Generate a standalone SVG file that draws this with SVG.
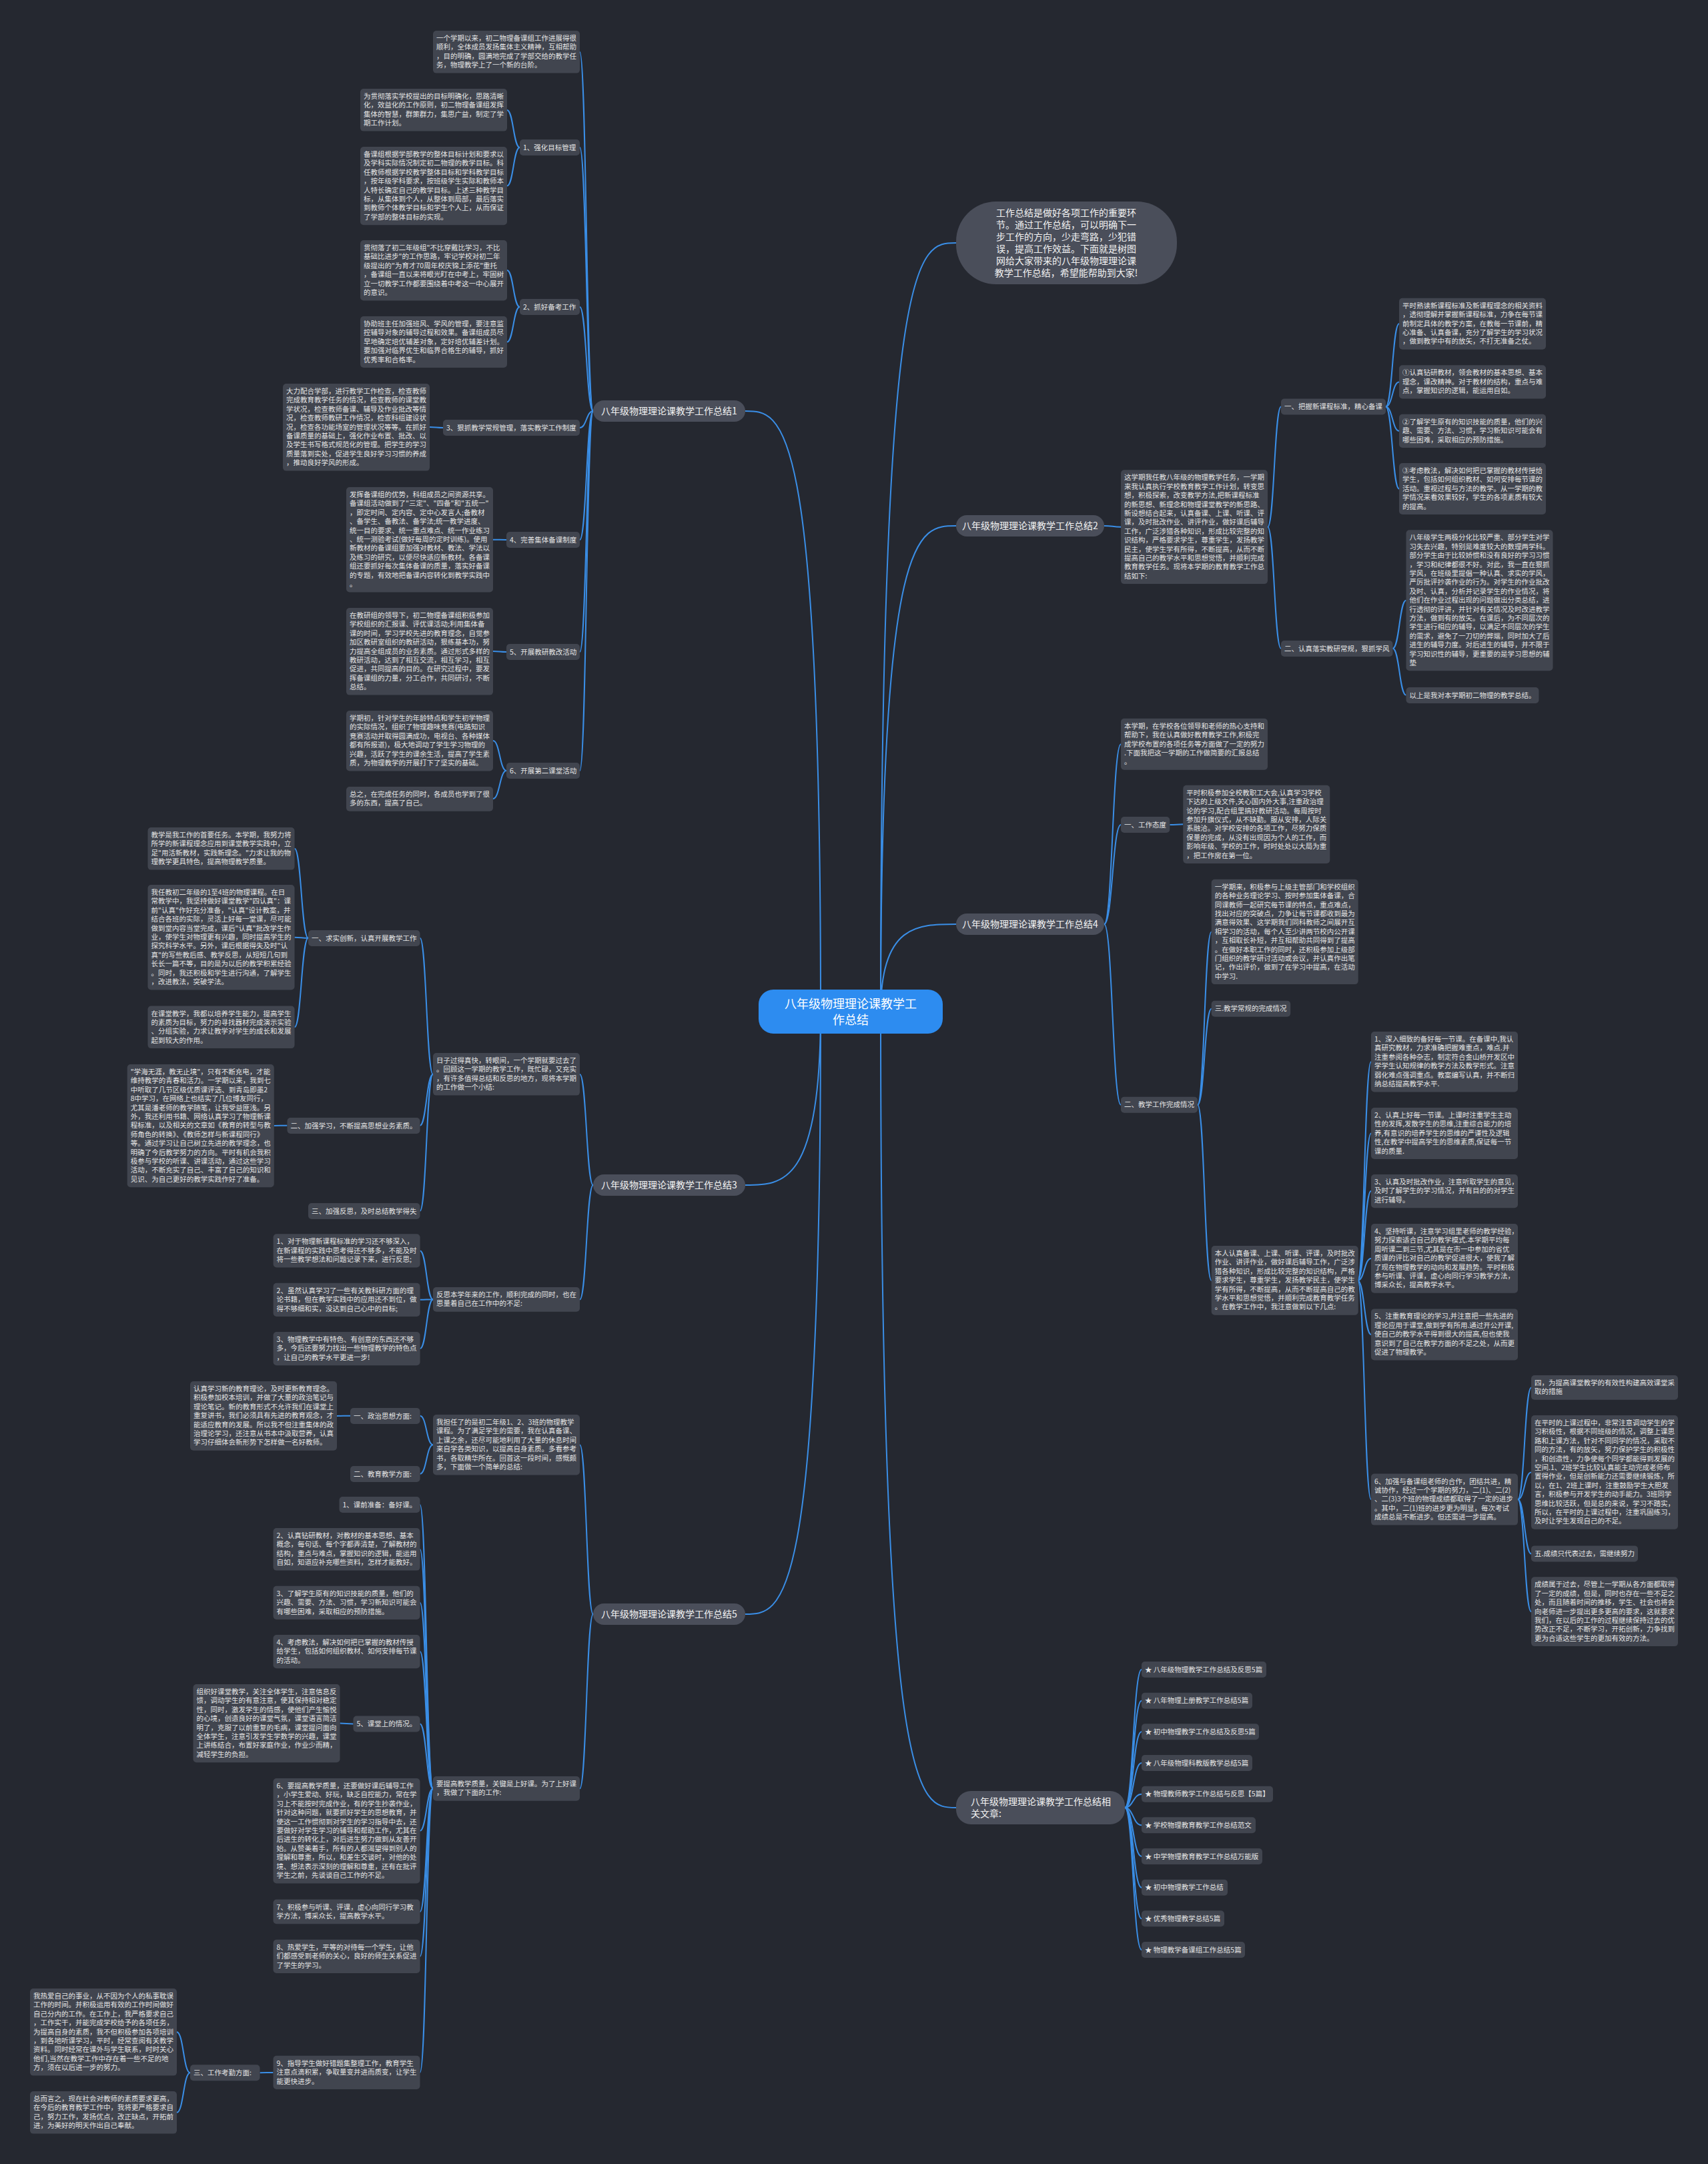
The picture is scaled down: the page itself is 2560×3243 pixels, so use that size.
<svg xmlns="http://www.w3.org/2000/svg" width="2560" height="3243" viewBox="0 0 2560 3243">
<style>
.b{fill:#41454f}
.t{font-family:"Noto Sans CJK SC","Noto Sans",sans-serif;font-size:10.5px;fill:#e4e4e4}
.c{fill:none;stroke:#3a8ee6;stroke-width:2}
.l1{fill:#4a4e5a}
.l1t{font-family:"Noto Sans CJK SC","Noto Sans",sans-serif;font-size:14px;fill:#f2f2f2;text-anchor:middle}
.rt{font-family:"Noto Sans CJK SC","Noto Sans",sans-serif;font-size:18px;fill:#ffffff;text-anchor:middle}
</style>
<rect x="0" y="0" width="2560" height="3243" fill="#252830"/>
<g id="connectors">
<path class="c" d="M1320 1516 C1320 364 1376 364 1433 364"/>
<path class="c" d="M1320 1516 C1320 788 1376 788 1433 788"/>
<path class="c" d="M1320 1516 C1320 1385 1376 1385 1433 1385"/>
<path class="c" d="M1320 1516 C1320 2709 1376 2709 1433 2709"/>
<path class="c" d="M1230 1516 C1230 616 1173 616 1117 616"/>
<path class="c" d="M1230 1516 C1230 1776 1173 1776 1117 1776"/>
<path class="c" d="M1230 1516 C1230 2419 1173 2419 1117 2419"/>
<path class="c" d="M869 78 C879 78 879 616 889 616"/>
<path class="c" d="M869 221 C879 221 879 616 889 616"/>
<path class="c" d="M869 460 C879 460 879 616 889 616"/>
<path class="c" d="M869 641 C879 641 879 616 889 616"/>
<path class="c" d="M869 809 C879 809 879 616 889 616"/>
<path class="c" d="M869 977 C879 977 879 616 889 616"/>
<path class="c" d="M869 1155 C879 1155 879 616 889 616"/>
<path class="c" d="M760 165 C769.5 165 769.5 221 779 221"/>
<path class="c" d="M760 278.5 C769.5 278.5 769.5 221 779 221"/>
<path class="c" d="M760 405 C769.5 405 769.5 460 779 460"/>
<path class="c" d="M760 512.5 C769.5 512.5 769.5 460 779 460"/>
<path class="c" d="M644 640 C654 640 654 641 664 641"/>
<path class="c" d="M739 808.7 C749 808.7 749 809 759 809"/>
<path class="c" d="M739 976 C749 976 749 977 759 977"/>
<path class="c" d="M739 1110 C749 1110 749 1155 759 1155"/>
<path class="c" d="M739 1197 C749 1197 749 1155 759 1155"/>
<path class="c" d="M869 1610 C879 1610 879 1776 889 1776"/>
<path class="c" d="M869 1947.4 C879 1947.4 879 1776 889 1776"/>
<path class="c" d="M629.5 1405.7 C639.2 1405.7 639.2 1610 649 1610"/>
<path class="c" d="M629.5 1686.7 C639.2 1686.7 639.2 1610 649 1610"/>
<path class="c" d="M629.5 1814.7 C639.2 1814.7 639.2 1610 649 1610"/>
<path class="c" d="M441.5 1271.8 C451.7 1271.8 451.7 1405.7 462 1405.7"/>
<path class="c" d="M441.5 1404.7 C451.7 1404.7 451.7 1405.7 462 1405.7"/>
<path class="c" d="M441.5 1539.3 C451.7 1539.3 451.7 1405.7 462 1405.7"/>
<path class="c" d="M410.7 1687 C420.6 1687 420.6 1686.7 430.5 1686.7"/>
<path class="c" d="M629.6 1874.4 C639.3 1874.4 639.3 1947.4 649 1947.4"/>
<path class="c" d="M629.6 1947.8 C639.3 1947.8 639.3 1947.4 649 1947.4"/>
<path class="c" d="M629.6 2021.1 C639.3 2021.1 639.3 1947.4 649 1947.4"/>
<path class="c" d="M869 2165.2 C879 2165.2 879 2419 889 2419"/>
<path class="c" d="M869 2680.4 C879 2680.4 879 2419 889 2419"/>
<path class="c" d="M629.6 2121.7 C639.3 2121.7 639.3 2165.2 649 2165.2"/>
<path class="c" d="M629.6 2208.7 C639.3 2208.7 639.3 2165.2 649 2165.2"/>
<path class="c" d="M505 2121.9 C515 2121.9 515 2121.7 525 2121.7"/>
<path class="c" d="M629.5 2255 C639.2 2255 639.2 2680.4 649 2680.4"/>
<path class="c" d="M629.5 2321.8 C639.2 2321.8 639.2 2680.4 649 2680.4"/>
<path class="c" d="M629.5 2401.8 C639.2 2401.8 639.2 2680.4 649 2680.4"/>
<path class="c" d="M629.5 2475.1 C639.2 2475.1 639.2 2680.4 649 2680.4"/>
<path class="c" d="M629.5 2583.4 C639.2 2583.4 639.2 2680.4 649 2680.4"/>
<path class="c" d="M629.5 2743.7 C639.2 2743.7 639.2 2680.4 649 2680.4"/>
<path class="c" d="M629.5 2864.9 C639.2 2864.9 639.2 2680.4 649 2680.4"/>
<path class="c" d="M629.5 2931.8 C639.2 2931.8 639.2 2680.4 649 2680.4"/>
<path class="c" d="M629.5 3105.9 C639.2 3105.9 639.2 2680.4 649 2680.4"/>
<path class="c" d="M509.5 2582.6 C519.5 2582.6 519.5 2583.4 529.5 2583.4"/>
<path class="c" d="M389.5 3106.2 C399.5 3106.2 399.5 3105.9 409.5 3105.9"/>
<path class="c" d="M265 3045.3 C275 3045.3 275 3106.2 285 3106.2"/>
<path class="c" d="M265 3165.8 C275 3165.8 275 3106.2 285 3106.2"/>
<path class="c" d="M1655 788 C1667.5 788 1667.5 789.7 1680 789.7"/>
<path class="c" d="M1900 789.7 C1910 789.7 1910 609.4 1920 609.4"/>
<path class="c" d="M1900 789.7 C1910 789.7 1910 971.7 1920 971.7"/>
<path class="c" d="M2077 609.4 C2087 609.4 2087 485.2 2097 485.2"/>
<path class="c" d="M2077 609.4 C2087 609.4 2087 572.4 2097 572.4"/>
<path class="c" d="M2077 609.4 C2087 609.4 2087 645.8 2097 645.8"/>
<path class="c" d="M2077 609.4 C2087 609.4 2087 732.5 2097 732.5"/>
<path class="c" d="M2087.5 971.7 C2097.5 971.7 2097.5 899.8 2107.5 899.8"/>
<path class="c" d="M2087.5 971.7 C2097.5 971.7 2097.5 1041.7 2107.5 1041.7"/>
<path class="c" d="M1655 1385 C1667.5 1385 1667.5 1115.2 1680 1115.2"/>
<path class="c" d="M1655 1385 C1667.5 1385 1667.5 1236 1680 1236"/>
<path class="c" d="M1655 1385 C1667.5 1385 1667.5 1655.7 1680 1655.7"/>
<path class="c" d="M1753.3 1236 C1763.3 1236 1763.3 1235.3 1773.3 1235.3"/>
<path class="c" d="M1795 1655.7 C1805.3 1655.7 1805.3 1396.4 1815.7 1396.4"/>
<path class="c" d="M1795 1655.7 C1805.3 1655.7 1805.3 1511.7 1815.7 1511.7"/>
<path class="c" d="M1795 1655.7 C1805.3 1655.7 1805.3 1918.9 1815.7 1918.9"/>
<path class="c" d="M2035 1918.9 C2045 1918.9 2045 1591.2 2055 1591.2"/>
<path class="c" d="M2035 1918.9 C2045 1918.9 2045 1698.5 2055 1698.5"/>
<path class="c" d="M2035 1918.9 C2045 1918.9 2045 1785.1 2055 1785.1"/>
<path class="c" d="M2035 1918.9 C2045 1918.9 2045 1885.9 2055 1885.9"/>
<path class="c" d="M2035 1918.9 C2045 1918.9 2045 1999.9 2055 1999.9"/>
<path class="c" d="M2035 1918.9 C2045 1918.9 2045 2247.1 2055 2247.1"/>
<path class="c" d="M2275 2247.1 C2285 2247.1 2285 2079.4 2295 2079.4"/>
<path class="c" d="M2275 2247.1 C2285 2247.1 2285 2206.4 2295 2206.4"/>
<path class="c" d="M2275 2247.1 C2285 2247.1 2285 2328.4 2295 2328.4"/>
<path class="c" d="M2275 2247.1 C2285 2247.1 2285 2415.2 2295 2415.2"/>
<path class="c" d="M1686 2709 C1698.5 2709 1698.5 2502 1711 2502"/>
<path class="c" d="M1686 2709 C1698.5 2709 1698.5 2548.7 1711 2548.7"/>
<path class="c" d="M1686 2709 C1698.5 2709 1698.5 2595.3 1711 2595.3"/>
<path class="c" d="M1686 2709 C1698.5 2709 1698.5 2642 1711 2642"/>
<path class="c" d="M1686 2709 C1698.5 2709 1698.5 2688.7 1711 2688.7"/>
<path class="c" d="M1686 2709 C1698.5 2709 1698.5 2735.3 1711 2735.3"/>
<path class="c" d="M1686 2709 C1698.5 2709 1698.5 2782 1711 2782"/>
<path class="c" d="M1686 2709 C1698.5 2709 1698.5 2828.7 1711 2828.7"/>
<path class="c" d="M1686 2709 C1698.5 2709 1698.5 2875.3 1711 2875.3"/>
<path class="c" d="M1686 2709 C1698.5 2709 1698.5 2922 1711 2922"/>
</g>

<g id="root"><rect x="1137" y="1483" width="276" height="66" rx="22" fill="#2d8cf0"/><text class="rt" x="1275" y="1511"><tspan x="1275">八年级物理理论课教学工</tspan><tspan x="1275" dy="24">作总结</tspan></text></g>
<g id="intro"><rect x="1433" y="302" width="331" height="124" rx="60" fill="#4a4e5a"/><text class="l1t" x="1598" y="324"><tspan x="1598">工作总结是做好各项工作的重要环</tspan><tspan x="1598" dy="18">节。通过工作总结，可以明确下一</tspan><tspan x="1598" dy="18">步工作的方向，少走弯路，少犯错</tspan><tspan x="1598" dy="18">误，提高工作效益。下面就是树图</tspan><tspan x="1598" dy="18">网给大家带来的八年级物理理论课</tspan><tspan x="1598" dy="18">教学工作总结，希望能帮助到大家!</tspan></text></g>
<g id="node1"><rect class="l1" x="889" y="600" width="228" height="32" rx="16"/><text class="l1t" x="1003" y="621">八年级物理理论课教学工作总结1</text></g>
<g id="node2"><rect class="l1" x="1433" y="772" width="222" height="32" rx="16"/><text class="l1t" x="1544" y="793">八年级物理理论课教学工作总结2</text></g>
<g id="node3"><rect class="l1" x="889" y="1760" width="228" height="32" rx="16"/><text class="l1t" x="1003" y="1781">八年级物理理论课教学工作总结3</text></g>
<g id="node4"><rect class="l1" x="1433" y="1369" width="222" height="32" rx="16"/><text class="l1t" x="1544" y="1390">八年级物理理论课教学工作总结4</text></g>
<g id="node5"><rect class="l1" x="889" y="2403" width="228" height="32" rx="16"/><text class="l1t" x="1003" y="2424">八年级物理理论课教学工作总结5</text></g>
<g id="node6"><rect class="l1" x="1433" y="2684" width="253" height="50" rx="22"/><text class="l1t" x="1455" y="2705" style="text-anchor:start"><tspan x="1455">八年级物理理论课教学工作总结相</tspan><tspan x="1455" dy="18">关文章:</tspan></text></g>

<g id="n1-0"><rect class="b" x="649" y="46" width="220" height="63.6" rx="5"/><text class="t" x="654" y="61"><tspan x="654">一个学期以来，初二物理备课组工作进展得很</tspan><tspan x="654" dy="13.4">顺利，全体成员发扬集体主义精神，互相帮助</tspan><tspan x="654" dy="13.4">，目的明确，圆满地完成了学部交给的教学任</tspan><tspan x="654" dy="13.4">务，物理教学上了一个新的台阶。</tspan></text></g>
<g id="n1-1"><rect class="b" x="779" y="209" width="90" height="24" rx="5"/><text class="t" x="784" y="224.5">1、强化目标管理</text></g>
<g id="n1-1a"><rect class="b" x="540" y="133" width="220" height="63.6" rx="5"/><text class="t" x="545" y="148"><tspan x="545">为贯彻落实学校提出的目标明确化，思路清晰</tspan><tspan x="545" dy="13.4">化，效益化的工作原则，初二物理备课组发挥</tspan><tspan x="545" dy="13.4">集体的智慧，群策群力，集思广益，制定了学</tspan><tspan x="545" dy="13.4">期工作计划。</tspan></text></g>
<g id="n1-1b"><rect class="b" x="540" y="220" width="220" height="117.2" rx="5"/><text class="t" x="545" y="235"><tspan x="545">备课组根据学部教学的整体目标计划和要求以</tspan><tspan x="545" dy="13.4">及学科实际情况制定初二物理的教学目标。科</tspan><tspan x="545" dy="13.4">任教师根据学校教学整体目标和学科教学目标</tspan><tspan x="545" dy="13.4">，按年级学科要求，按班级学生实际和教师本</tspan><tspan x="545" dy="13.4">人特长确定自己的教学目标。上述三种教学目</tspan><tspan x="545" dy="13.4">标，从集体到个人，从整体到局部，最后落实</tspan><tspan x="545" dy="13.4">到教师个体教学目标和学生个人上，从而保证</tspan><tspan x="545" dy="13.4">了学部的整体目标的实现。</tspan></text></g>
<g id="n1-2"><rect class="b" x="779" y="448" width="90" height="24" rx="5"/><text class="t" x="784" y="463.5">2、抓好备考工作</text></g>
<g id="n1-2a"><rect class="b" x="540" y="360" width="220" height="90.4" rx="5"/><text class="t" x="545" y="375"><tspan x="545">贯彻落了初二年级组"不比穿戴比学习，不比</tspan><tspan x="545" dy="13.4">基础比进步"的工作思路，牢记学校对初二年</tspan><tspan x="545" dy="13.4">级提出的"为育才70周年校庆锦上添花"重托</tspan><tspan x="545" dy="13.4">，备课组一直以来将眼光盯在中考上，牢固树</tspan><tspan x="545" dy="13.4">立一切教学工作都要围绕着中考这一中心展开</tspan><tspan x="545" dy="13.4">的意识。</tspan></text></g>
<g id="n1-2b"><rect class="b" x="540" y="474" width="220" height="77" rx="5"/><text class="t" x="545" y="489"><tspan x="545">协助班主任加强班风、学风的管理，要注意监</tspan><tspan x="545" dy="13.4">控辅导对象的辅导过程和效果。备课组成员尽</tspan><tspan x="545" dy="13.4">早地确定培优辅差对象，定好培优辅差计划。</tspan><tspan x="545" dy="13.4">要加强对临界优生和临界合格生的辅导，抓好</tspan><tspan x="545" dy="13.4">优秀率和合格率。</tspan></text></g>
<g id="n1-3"><rect class="b" x="664" y="629" width="205" height="24" rx="5"/><text class="t" x="669" y="644.5">3、狠抓教学常规管理，落实教学工作制度</text></g>
<g id="n1-3a"><rect class="b" x="424" y="575" width="220" height="130.6" rx="5"/><text class="t" x="429" y="590"><tspan x="429">大力配合学部，进行教学工作检查，检查教师</tspan><tspan x="429" dy="13.4">完成教育教学任务的情况，检查教师的课堂教</tspan><tspan x="429" dy="13.4">学状况，检查教师备课、辅导及作业批改等情</tspan><tspan x="429" dy="13.4">况，检查教师教研工作情况，检查科组建设状</tspan><tspan x="429" dy="13.4">况，检查各功能场室的管理状况等等。在抓好</tspan><tspan x="429" dy="13.4">备课质量的基础上，强化作业布置、批改、以</tspan><tspan x="429" dy="13.4">及学生书写格式规范化的管理。把学生的学习</tspan><tspan x="429" dy="13.4">质量落到实处，促进学生良好学习习惯的养成</tspan><tspan x="429" dy="13.4">，推动良好学风的形成。</tspan></text></g>
<g id="n1-4"><rect class="b" x="759" y="797" width="110" height="24" rx="5"/><text class="t" x="764" y="812.5">4、完善集体备课制度</text></g>
<g id="n1-4a"><rect class="b" x="519" y="730" width="220" height="157.4" rx="5"/><text class="t" x="524" y="745"><tspan x="524">发挥备课组的优势，科组成员之间资源共享。</tspan><tspan x="524" dy="13.4">备课组活动做到了"三定"、"四备"和"五统一"</tspan><tspan x="524" dy="13.4">，即定时间、定内容、定中心发言人;备教材</tspan><tspan x="524" dy="13.4">、备学生、备教法、备学法;统一教学进度、</tspan><tspan x="524" dy="13.4">统一目的要求、统一重点难点、统一作业练习</tspan><tspan x="524" dy="13.4">、统一测验考试(做好每周的定时训练)。使用</tspan><tspan x="524" dy="13.4">新教材的备课组要加强对教材、教法、学法以</tspan><tspan x="524" dy="13.4">及练习的研究，以便尽快适应新教材。各备课</tspan><tspan x="524" dy="13.4">组还要抓好每次集体备课的质量，落实好备课</tspan><tspan x="524" dy="13.4">的专题，有效地把备课内容转化到教学实践中</tspan><tspan x="524" dy="13.4">。</tspan></text></g>
<g id="n1-5"><rect class="b" x="759" y="965" width="110" height="24" rx="5"/><text class="t" x="764" y="980.5">5、开展教研教改活动</text></g>
<g id="n1-5a"><rect class="b" x="519" y="911" width="220" height="130.6" rx="5"/><text class="t" x="524" y="926"><tspan x="524">在教研组的领导下，初二物理备课组积极参加</tspan><tspan x="524" dy="13.4">学校组织的汇报课、评优课活动;利用集体备</tspan><tspan x="524" dy="13.4">课的时间，学习学校先进的教育理念，自觉参</tspan><tspan x="524" dy="13.4">加区教研室组织的教研活动，狠练基本功，努</tspan><tspan x="524" dy="13.4">力提高全组成员的业务素质。通过形式多样的</tspan><tspan x="524" dy="13.4">教研活动，达到了相互交流，相互学习，相互</tspan><tspan x="524" dy="13.4">促进，共同提高的目的。在研究过程中，要发</tspan><tspan x="524" dy="13.4">挥备课组的力量，分工合作，共同研讨，不断</tspan><tspan x="524" dy="13.4">总结。</tspan></text></g>
<g id="n1-6"><rect class="b" x="759" y="1143" width="110" height="24" rx="5"/><text class="t" x="764" y="1158.5">6、开展第二课堂活动</text></g>
<g id="n1-6a"><rect class="b" x="519" y="1065" width="220" height="90.4" rx="5"/><text class="t" x="524" y="1080"><tspan x="524">学期初，针对学生的年龄特点和学生初学物理</tspan><tspan x="524" dy="13.4">的实际情况，组织了物理趣味竞赛(电路知识</tspan><tspan x="524" dy="13.4">竞赛活动并取得圆满成功，电视台、各种媒体</tspan><tspan x="524" dy="13.4">都有所报道)，极大地调动了学生学习物理的</tspan><tspan x="524" dy="13.4">兴趣，活跃了学生的课余生活，提高了学生素</tspan><tspan x="524" dy="13.4">质，为物理教学的开展打下了坚实的基础。</tspan></text></g>
<g id="n1-6b"><rect class="b" x="519" y="1179" width="220" height="36.8" rx="5"/><text class="t" x="524" y="1194"><tspan x="524">总之，在完成任务的同时，各成员也学到了很</tspan><tspan x="524" dy="13.4">多的东西，提高了自己。</tspan></text></g>

<g id="n3-a"><rect class="b" x="649" y="1578" width="220" height="63.6" rx="5"/><text class="t" x="654" y="1593"><tspan x="654">日子过得真快，转眼间，一个学期就要过去了</tspan><tspan x="654" dy="13.4">。回顾这一学期的教学工作，既忙碌，又充实</tspan><tspan x="654" dy="13.4">，有许多值得总结和反思的地方，现将本学期</tspan><tspan x="654" dy="13.4">的工作做一个小结:</tspan></text></g>
<g id="n3-a1"><rect class="b" x="462" y="1394" width="167.5" height="24" rx="5"/><text class="t" x="467" y="1409.5">一、求实创新，认真开展教学工作</text></g>
<g id="n3-a1a"><rect class="b" x="221.5" y="1240" width="220" height="63.6" rx="5"/><text class="t" x="226.5" y="1255"><tspan x="226.5">教学是我工作的首要任务。本学期，我努力将</tspan><tspan x="226.5" dy="13.4">所学的新课程理念应用到课堂教学实践中，立</tspan><tspan x="226.5" dy="13.4">足"用活新教材，实践新理念。"力求让我的物</tspan><tspan x="226.5" dy="13.4">理教学更具特色，提高物理教学质量。</tspan></text></g>
<g id="n3-a1b"><rect class="b" x="221.5" y="1326" width="220" height="157.4" rx="5"/><text class="t" x="226.5" y="1341"><tspan x="226.5">我任教初二年级的1至4班的物理课程。在日</tspan><tspan x="226.5" dy="13.4">常教学中，我坚持做好课堂教学"四认真"：课</tspan><tspan x="226.5" dy="13.4">前"认真"作好充分准备，"认真"设计教案，并</tspan><tspan x="226.5" dy="13.4">结合各班的实际，灵活上好每一堂课，尽可能</tspan><tspan x="226.5" dy="13.4">做到堂内容当堂完成，课后"认真"批改学生作</tspan><tspan x="226.5" dy="13.4">业，使学生对物理更有兴趣，同时提高学生的</tspan><tspan x="226.5" dy="13.4">探究科学水平。另外，课后根据得失及时"认</tspan><tspan x="226.5" dy="13.4">真"的写些教后感、教学反思，从短短几句到</tspan><tspan x="226.5" dy="13.4">长长一篇不等，目的是为以后的教学积累经验</tspan><tspan x="226.5" dy="13.4">。同时，我还积极和学生进行沟通，了解学生</tspan><tspan x="226.5" dy="13.4">，改进教法，突破学法。</tspan></text></g>
<g id="n3-a1c"><rect class="b" x="221.5" y="1507.5" width="220" height="63.6" rx="5"/><text class="t" x="226.5" y="1522.5"><tspan x="226.5">在课堂教学，我都以培养学生能力，提高学生</tspan><tspan x="226.5" dy="13.4">的素质为目标，努力的寻找器材完成演示实验</tspan><tspan x="226.5" dy="13.4">、分组实验，力求让教学对学生的成长和发展</tspan><tspan x="226.5" dy="13.4">起到较大的作用。</tspan></text></g>
<g id="n3-a2"><rect class="b" x="430.5" y="1675" width="199" height="24" rx="5"/><text class="t" x="435.5" y="1690.5">二、加强学习，不断提高思想业务素质。</text></g>
<g id="n3-a2a"><rect class="b" x="190.7" y="1595" width="220" height="184.2" rx="5"/><text class="t" x="195.7" y="1610"><tspan x="195.7">"学海无涯，教无止境"，只有不断充电，才能</tspan><tspan x="195.7" dy="13.4">维持教学的青春和活力。一学期以来，我到七</tspan><tspan x="195.7" dy="13.4">中听取了几节区级优质课评选、到青岛即墨2</tspan><tspan x="195.7" dy="13.4">8中学习，在网络上也结实了几位博友同行，</tspan><tspan x="195.7" dy="13.4">尤其是潘老师的教学随笔，让我受益匪浅。另</tspan><tspan x="195.7" dy="13.4">外，我还利用书籍、网络认真学习了物理新课</tspan><tspan x="195.7" dy="13.4">程标准，以及相关的文章如《教育的转型与教</tspan><tspan x="195.7" dy="13.4">师角色的转换》、《教师怎样与新课程同行》</tspan><tspan x="195.7" dy="13.4">等。通过学习让自己树立先进的教学理念，也</tspan><tspan x="195.7" dy="13.4">明确了今后教学努力的方向。平时有机会我积</tspan><tspan x="195.7" dy="13.4">极参与学校的听课、讲课活动，通过这些学习</tspan><tspan x="195.7" dy="13.4">活动，不断充实了自己、丰富了自己的知识和</tspan><tspan x="195.7" dy="13.4">见识、为自己更好的教学实践作好了准备。</tspan></text></g>
<g id="n3-a3"><rect class="b" x="462" y="1803" width="167.5" height="24" rx="5"/><text class="t" x="467" y="1818.5">三、加强反思，及时总结教学得失</text></g>
<g id="n3-b"><rect class="b" x="649" y="1929" width="220" height="36.8" rx="5"/><text class="t" x="654" y="1944"><tspan x="654">反思本学年来的工作，顺利完成的同时，也在</tspan><tspan x="654" dy="13.4">思量着自己在工作中的不足:</tspan></text></g>
<g id="n3-b1"><rect class="b" x="409.6" y="1849.3" width="220" height="50.2" rx="5"/><text class="t" x="414.6" y="1864.3"><tspan x="414.6">1、对于物理新课程标准的学习还不够深入，</tspan><tspan x="414.6" dy="13.4">在新课程的实践中思考得还不够多，不能及时</tspan><tspan x="414.6" dy="13.4">将一些教学想法和问题记录下来，进行反思;</tspan></text></g>
<g id="n3-b2"><rect class="b" x="409.6" y="1922.7" width="220" height="50.2" rx="5"/><text class="t" x="414.6" y="1937.7"><tspan x="414.6">2、虽然认真学习了一些有关教科研方面的理</tspan><tspan x="414.6" dy="13.4">论书籍，但在教学实践中的应用还不到位，做</tspan><tspan x="414.6" dy="13.4">得不够细和实，没达到自己心中的目标;</tspan></text></g>
<g id="n3-b3"><rect class="b" x="409.6" y="1996" width="220" height="50.2" rx="5"/><text class="t" x="414.6" y="2011"><tspan x="414.6">3、物理教学中有特色、有创意的东西还不够</tspan><tspan x="414.6" dy="13.4">多，今后还要努力找出一些物理教学的特色点</tspan><tspan x="414.6" dy="13.4">，让自己的教学水平更进一步!</tspan></text></g>

<g id="n5-a"><rect class="b" x="649" y="2120" width="220" height="90.4" rx="5"/><text class="t" x="654" y="2135"><tspan x="654">我担任了的是初二年级1、2、3班的物理教学</tspan><tspan x="654" dy="13.4">课程。为了满足学生的需要，我在认真备课、</tspan><tspan x="654" dy="13.4">上课之余，还尽可能地利用了大量的休息时间</tspan><tspan x="654" dy="13.4">来自学各类知识，以提高自身素质。多看参考</tspan><tspan x="654" dy="13.4">书，各取精华所在。回首这一段时间，感慨颇</tspan><tspan x="654" dy="13.4">多，下面做一个简单的总结:</tspan></text></g>
<g id="n5-a1"><rect class="b" x="525" y="2110" width="104.6" height="24" rx="5"/><text class="t" x="530" y="2125.5">一、政治思想方面:</text></g>
<g id="n5-a1a"><rect class="b" x="285" y="2070" width="220" height="103.8" rx="5"/><text class="t" x="290" y="2085"><tspan x="290">认真学习新的教育理论，及时更新教育理念。</tspan><tspan x="290" dy="13.4">积极参加校本培训，并做了大量的政治笔记与</tspan><tspan x="290" dy="13.4">理论笔记。新的教育形式不允许我们在课堂上</tspan><tspan x="290" dy="13.4">重复讲书，我们必须具有先进的教育观念，才</tspan><tspan x="290" dy="13.4">能适应教育的发展。所以我不但注重集体的政</tspan><tspan x="290" dy="13.4">治理论学习，还注意从书本中汲取营养，认真</tspan><tspan x="290" dy="13.4">学习仔细体会新形势下怎样做一名好教师。</tspan></text></g>
<g id="n5-a2"><rect class="b" x="525" y="2197" width="104.6" height="24" rx="5"/><text class="t" x="530" y="2212.5">二、教育教学方面:</text></g>
<g id="n5-b"><rect class="b" x="649" y="2662" width="220" height="36.8" rx="5"/><text class="t" x="654" y="2677"><tspan x="654">要提高教学质量，关键是上好课。为了上好课</tspan><tspan x="654" dy="13.4">，我做了下面的工作:</tspan></text></g>
<g id="n5-b1"><rect class="b" x="508.5" y="2243" width="121" height="24" rx="5"/><text class="t" x="513.5" y="2258.5">1、课前准备：备好课。</text></g>
<g id="n5-b2"><rect class="b" x="409.5" y="2290" width="220" height="63.6" rx="5"/><text class="t" x="414.5" y="2305"><tspan x="414.5">2、认真钻研教材，对教材的基本思想、基本</tspan><tspan x="414.5" dy="13.4">概念，每句话、每个字都弄清楚，了解教材的</tspan><tspan x="414.5" dy="13.4">结构，重点与难点，掌握知识的逻辑，能运用</tspan><tspan x="414.5" dy="13.4">自如，知道应补充哪些资料，怎样才能教好。</tspan></text></g>
<g id="n5-b3"><rect class="b" x="409.5" y="2376.7" width="220" height="50.2" rx="5"/><text class="t" x="414.5" y="2391.7"><tspan x="414.5">3、了解学生原有的知识技能的质量，他们的</tspan><tspan x="414.5" dy="13.4">兴趣、需要、方法、习惯，学习新知识可能会</tspan><tspan x="414.5" dy="13.4">有哪些困难，采取相应的预防措施。</tspan></text></g>
<g id="n5-b4"><rect class="b" x="409.5" y="2450" width="220" height="50.2" rx="5"/><text class="t" x="414.5" y="2465"><tspan x="414.5">4、考虑教法，解决如何把已掌握的教材传授</tspan><tspan x="414.5" dy="13.4">给学生，包括如何组织教材、如何安排每节课</tspan><tspan x="414.5" dy="13.4">的活动。</tspan></text></g>
<g id="n5-b5"><rect class="b" x="529.5" y="2571.5" width="100" height="24" rx="5"/><text class="t" x="534.5" y="2587">5、课堂上的情况。</text></g>
<g id="n5-b5a"><rect class="b" x="289.5" y="2524" width="220" height="117.2" rx="5"/><text class="t" x="294.5" y="2539"><tspan x="294.5">组织好课堂教学，关注全体学生，注意信息反</tspan><tspan x="294.5" dy="13.4">馈，调动学生的有意注意，使其保持相对稳定</tspan><tspan x="294.5" dy="13.4">性，同时，激发学生的情感，使他们产生愉悦</tspan><tspan x="294.5" dy="13.4">的心境，创造良好的课堂气氛，课堂语言简洁</tspan><tspan x="294.5" dy="13.4">明了，克服了以前重复的毛病，课堂提问面向</tspan><tspan x="294.5" dy="13.4">全体学生，注意引发学生学数学的兴趣，课堂</tspan><tspan x="294.5" dy="13.4">上讲练结合，布置好家庭作业，作业少而精，</tspan><tspan x="294.5" dy="13.4">减轻学生的负担。</tspan></text></g>
<g id="n5-b6"><rect class="b" x="409.5" y="2665" width="220" height="157.4" rx="5"/><text class="t" x="414.5" y="2680"><tspan x="414.5">6、要提高教学质量，还要做好课后辅导工作</tspan><tspan x="414.5" dy="13.4">，小学生爱动、好玩，缺乏自控能力，常在学</tspan><tspan x="414.5" dy="13.4">习上不能按时完成作业，有的学生抄袭作业，</tspan><tspan x="414.5" dy="13.4">针对这种问题，就要抓好学生的思想教育，并</tspan><tspan x="414.5" dy="13.4">使这一工作惯彻到对学生的学习指导中去，还</tspan><tspan x="414.5" dy="13.4">要做好对学生学习的辅导和帮助工作，尤其在</tspan><tspan x="414.5" dy="13.4">后进生的转化上，对后进生努力做到从友善开</tspan><tspan x="414.5" dy="13.4">始。从赞美着手，所有的人都渴望得到别人的</tspan><tspan x="414.5" dy="13.4">理解和尊重，所以，和差生交谈时，对他的处</tspan><tspan x="414.5" dy="13.4">境、想法表示深刻的理解和尊重，还有在批评</tspan><tspan x="414.5" dy="13.4">学生之前，先谈谈自己工作的不足。</tspan></text></g>
<g id="n5-b7"><rect class="b" x="409.5" y="2846.5" width="220" height="36.8" rx="5"/><text class="t" x="414.5" y="2861.5"><tspan x="414.5">7、积极参与听课、评课，虚心向同行学习教</tspan><tspan x="414.5" dy="13.4">学方法，博采众长，提高教学水平。</tspan></text></g>
<g id="n5-b8"><rect class="b" x="409.5" y="2906.7" width="220" height="50.2" rx="5"/><text class="t" x="414.5" y="2921.7"><tspan x="414.5">8、热爱学生，平等的对待每一个学生，让他</tspan><tspan x="414.5" dy="13.4">们都感受到老师的关心，良好的师生关系促进</tspan><tspan x="414.5" dy="13.4">了学生的学习。</tspan></text></g>
<g id="n5-b9"><rect class="b" x="409.5" y="3080.8" width="220" height="50.2" rx="5"/><text class="t" x="414.5" y="3095.8"><tspan x="414.5">9、指导学生做好错题集整理工作，教育学生</tspan><tspan x="414.5" dy="13.4">注意点滴积累，争取量变并进而质变，让学生</tspan><tspan x="414.5" dy="13.4">能更快进步。</tspan></text></g>
<g id="n5-b9a"><rect class="b" x="285" y="3094.2" width="104.5" height="24" rx="5"/><text class="t" x="290" y="3109.7">三、工作考勤方面:</text></g>
<g id="n5-b9a1"><rect class="b" x="45" y="2980" width="220" height="130.6" rx="5"/><text class="t" x="50" y="2995"><tspan x="50">我热爱自己的事业，从不因为个人的私事耽误</tspan><tspan x="50" dy="13.4">工作的时间。并积极运用有效的工作时间做好</tspan><tspan x="50" dy="13.4">自己分内的工作。在工作上，我严格要求自己</tspan><tspan x="50" dy="13.4">，工作实干，并能完成学校给予的各项任务，</tspan><tspan x="50" dy="13.4">为提高自身的素质，我不但积极参加各项培训</tspan><tspan x="50" dy="13.4">，到各地听课学习，平时，经常查阅有关教学</tspan><tspan x="50" dy="13.4">资料。同时经常在课外与学生联系，时时关心</tspan><tspan x="50" dy="13.4">他们,当然在教学工作中存在着一些不足的地</tspan><tspan x="50" dy="13.4">方，须在以后进一步的努力。</tspan></text></g>
<g id="n5-b9a2"><rect class="b" x="45" y="3134" width="220" height="63.6" rx="5"/><text class="t" x="50" y="3149"><tspan x="50">总而言之，现在社会对教师的素质要求更高，</tspan><tspan x="50" dy="13.4">在今后的教育教学工作中，我将更严格要求自</tspan><tspan x="50" dy="13.4">己，努力工作，发扬优点，改正缺点，开拓前</tspan><tspan x="50" dy="13.4">进，为美好的明天作出自己奉献。</tspan></text></g>

<g id="n2-a"><rect class="b" x="1680" y="704.3" width="220" height="170.8" rx="5"/><text class="t" x="1685" y="719.3"><tspan x="1685">这学期我任教八年级的物理教学任务，一学期</tspan><tspan x="1685" dy="13.4">来我认真执行学校教育教学工作计划，转变思</tspan><tspan x="1685" dy="13.4">想，积极探索，改变教学方法,把新课程标准</tspan><tspan x="1685" dy="13.4">的新思想、新理念和物理课堂教学的新思路、</tspan><tspan x="1685" dy="13.4">新设想结合起来，认真备课、上课、听课、评</tspan><tspan x="1685" dy="13.4">课，及时批改作业、讲评作业，做好课后辅导</tspan><tspan x="1685" dy="13.4">工作，广泛涉猎各种知识，形成比较完整的知</tspan><tspan x="1685" dy="13.4">识结构，严格要求学生，尊重学生，发扬教学</tspan><tspan x="1685" dy="13.4">民主，使学生学有所得，不断提高，从而不断</tspan><tspan x="1685" dy="13.4">提高自己的教学水平和思想觉悟，并顺利完成</tspan><tspan x="1685" dy="13.4">教育教学任务。现将本学期的教育教学工作总</tspan><tspan x="1685" dy="13.4">结如下:</tspan></text></g>
<g id="n2-1"><rect class="b" x="1920" y="597.5" width="157" height="24" rx="5"/><text class="t" x="1925" y="613">一、把握新课程标准，精心备课</text></g>
<g id="n2-1a"><rect class="b" x="2097" y="446.7" width="220" height="77" rx="5"/><text class="t" x="2102" y="461.7"><tspan x="2102">平时熟读新课程标准及新课程理念的相关资料</tspan><tspan x="2102" dy="13.4">，透彻理解并掌握新课程标准，力争在每节课</tspan><tspan x="2102" dy="13.4">前制定具体的教学方案，在教每一节课前，精</tspan><tspan x="2102" dy="13.4">心准备、认真备课，充分了解学生的学习状况</tspan><tspan x="2102" dy="13.4">，做到教学中有的放矢，不打无准备之仗。</tspan></text></g>
<g id="n2-1b"><rect class="b" x="2097" y="547.3" width="220" height="50.2" rx="5"/><text class="t" x="2102" y="562.3"><tspan x="2102">①认真钻研教材，领会教材的基本思想、基本</tspan><tspan x="2102" dy="13.4">理念，课改精神。对于教材的结构，重点与难</tspan><tspan x="2102" dy="13.4">点，掌握知识的逻辑，能运用自如。</tspan></text></g>
<g id="n2-1c"><rect class="b" x="2097" y="620.7" width="220" height="50.2" rx="5"/><text class="t" x="2102" y="635.7"><tspan x="2102">②了解学生原有的知识技能的质量，他们的兴</tspan><tspan x="2102" dy="13.4">趣、需要、方法、习惯，学习新知识可能会有</tspan><tspan x="2102" dy="13.4">哪些困难，采取相应的预防措施。</tspan></text></g>
<g id="n2-1d"><rect class="b" x="2097" y="694" width="220" height="77" rx="5"/><text class="t" x="2102" y="709"><tspan x="2102">③考虑教法，解决如何把已掌握的教材传授给</tspan><tspan x="2102" dy="13.4">学生，包括如何组织教材、如何安排每节课的</tspan><tspan x="2102" dy="13.4">活动。重视过程与方法的教学。从一学期的教</tspan><tspan x="2102" dy="13.4">学情况来看效果较好，学生的各项素质有较大</tspan><tspan x="2102" dy="13.4">的提高。</tspan></text></g>
<g id="n2-2"><rect class="b" x="1920" y="960" width="167.5" height="24" rx="5"/><text class="t" x="1925" y="975.5">二、认真落实教研常规，狠抓学风</text></g>
<g id="n2-2a"><rect class="b" x="2107.5" y="794.3" width="220" height="211" rx="5"/><text class="t" x="2112.5" y="809.3"><tspan x="2112.5">八年级学生两极分化比较严重、部分学生对学</tspan><tspan x="2112.5" dy="13.4">习失去兴趣，特别是难度较大的数理两学科。</tspan><tspan x="2112.5" dy="13.4">部分学生由于比较娇惯和没有良好的学习习惯</tspan><tspan x="2112.5" dy="13.4">，学习和纪律都很不好。对此，我一直在狠抓</tspan><tspan x="2112.5" dy="13.4">学风，在班级里提倡一种认真、求实的学风，</tspan><tspan x="2112.5" dy="13.4">严厉批评抄袭作业的行为。对学生的作业批改</tspan><tspan x="2112.5" dy="13.4">及时、认真，分析并记录学生的作业情况，将</tspan><tspan x="2112.5" dy="13.4">他们在作业过程出现的问题做出分类总结，进</tspan><tspan x="2112.5" dy="13.4">行透彻的评讲，并针对有关情况及时改进教学</tspan><tspan x="2112.5" dy="13.4">方法，做到有的放矢。在课后，为不同层次的</tspan><tspan x="2112.5" dy="13.4">学生进行相应的辅导，以满足不同层次的学生</tspan><tspan x="2112.5" dy="13.4">的需求，避免了一刀切的弊端，同时加大了后</tspan><tspan x="2112.5" dy="13.4">进生的辅导力度。对后进生的辅导，并不限于</tspan><tspan x="2112.5" dy="13.4">学习知识性的辅导，更重要的是学习思想的辅</tspan><tspan x="2112.5" dy="13.4">垫</tspan></text></g>
<g id="n2-2b"><rect class="b" x="2107.5" y="1030" width="199" height="24" rx="5"/><text class="t" x="2112.5" y="1045.5">以上是我对本学期初二物理的教学总结。</text></g>

<g id="n4-a"><rect class="b" x="1680" y="1076.7" width="220" height="77" rx="5"/><text class="t" x="1685" y="1091.7"><tspan x="1685">本学期，在学校各位领导和老师的热心支持和</tspan><tspan x="1685" dy="13.4">帮助下，我在认真做好教育教学工作,积极完</tspan><tspan x="1685" dy="13.4">成学校布置的各项任务等方面做了一定的努力</tspan><tspan x="1685" dy="13.4">.下面我把这一学期的工作做简要的汇报总结</tspan><tspan x="1685" dy="13.4">。</tspan></text></g>
<g id="n4-b"><rect class="b" x="1680" y="1224" width="73.3" height="24" rx="5"/><text class="t" x="1685" y="1239.5">一、工作态度</text></g>
<g id="n4-b1"><rect class="b" x="1773.3" y="1176.7" width="220" height="117.2" rx="5"/><text class="t" x="1778.3" y="1191.7"><tspan x="1778.3">平时积极参加全校教职工大会,认真学习学校</tspan><tspan x="1778.3" dy="13.4">下达的上级文件,关心国内外大事,注重政治理</tspan><tspan x="1778.3" dy="13.4">论的学习,配合组里搞好教研活动。每周按时</tspan><tspan x="1778.3" dy="13.4">参加升旗仪式，从不缺勤。服从安排，人际关</tspan><tspan x="1778.3" dy="13.4">系融洽。对学校安排的各项工作，尽努力保质</tspan><tspan x="1778.3" dy="13.4">保量的完成，从没有出现因为个人的工作，而</tspan><tspan x="1778.3" dy="13.4">影响年级、学校的工作，时时处处以大局为重</tspan><tspan x="1778.3" dy="13.4">，把工作房在第一位。</tspan></text></g>
<g id="n4-c"><rect class="b" x="1680" y="1643.7" width="115" height="24" rx="5"/><text class="t" x="1685" y="1659.2">二、教学工作完成情况</text></g>
<g id="n4-c1"><rect class="b" x="1815.7" y="1317.7" width="220" height="157.4" rx="5"/><text class="t" x="1820.7" y="1332.7"><tspan x="1820.7">一学期来，积极参与上级主管部门和学校组织</tspan><tspan x="1820.7" dy="13.4">的各种业务理论学习、按时参加集体备课，合</tspan><tspan x="1820.7" dy="13.4">同课教师一起研究每节课的特点，重点难点，</tspan><tspan x="1820.7" dy="13.4">找出对应的突破点，力争让每节课都收到最为</tspan><tspan x="1820.7" dy="13.4">满意得效果、这学期我们同科教师之间展开互</tspan><tspan x="1820.7" dy="13.4">相学习的活动，每个人至少讲两节校内公开课</tspan><tspan x="1820.7" dy="13.4">，互相取长补短，并互相帮助共同得到了提高</tspan><tspan x="1820.7" dy="13.4">。在做好本职工作的同时，还积极参加上级部</tspan><tspan x="1820.7" dy="13.4">门组织的教学研讨活动或会议，并认真作出笔</tspan><tspan x="1820.7" dy="13.4">记，作出评价，做到了在学习中提高，在活动</tspan><tspan x="1820.7" dy="13.4">中学习.</tspan></text></g>
<g id="n4-c2"><rect class="b" x="1815.7" y="1499.7" width="118.5" height="24" rx="5"/><text class="t" x="1820.7" y="1515.2">三.教学常规的完成情况</text></g>
<g id="n4-c3"><rect class="b" x="1815.7" y="1867" width="220" height="103.8" rx="5"/><text class="t" x="1820.7" y="1882"><tspan x="1820.7">本人认真备课、上课、听课、评课，及时批改</tspan><tspan x="1820.7" dy="13.4">作业、讲评作业，做好课后辅导工作，广泛涉</tspan><tspan x="1820.7" dy="13.4">猎各种知识，形成比较完整的知识结构，严格</tspan><tspan x="1820.7" dy="13.4">要求学生，尊重学生，发扬教学民主，使学生</tspan><tspan x="1820.7" dy="13.4">学有所得，不断提高，从而不断提高自己的教</tspan><tspan x="1820.7" dy="13.4">学水平和思想觉悟，并顺利完成教育教学任务</tspan><tspan x="1820.7" dy="13.4">。在教学工作中，我注意做到以下几点:</tspan></text></g>
<g id="n4-d1"><rect class="b" x="2055" y="1546" width="220" height="90.4" rx="5"/><text class="t" x="2060" y="1561"><tspan x="2060">1、深入细致的备好每一节课。在备课中,我认</tspan><tspan x="2060" dy="13.4">真研究教材，力求准确把握难重点，难点.并</tspan><tspan x="2060" dy="13.4">注重参阅各种杂志，制定符合金山桥开发区中</tspan><tspan x="2060" dy="13.4">学学生认知规律的教学方法及教学形式。注意</tspan><tspan x="2060" dy="13.4">弱化难点强调重点。教案编写认真，并不断归</tspan><tspan x="2060" dy="13.4">纳总结提高教学水平.</tspan></text></g>
<g id="n4-d2"><rect class="b" x="2055" y="1660" width="220" height="77" rx="5"/><text class="t" x="2060" y="1675"><tspan x="2060">2、认真上好每一节课。上课时注重学生主动</tspan><tspan x="2060" dy="13.4">性的发挥,发散学生的思维,注重综合能力的培</tspan><tspan x="2060" dy="13.4">养,有意识的培养学生的思维的严谨性及逻辑</tspan><tspan x="2060" dy="13.4">性,在教学中提高学生的思维素质,保证每一节</tspan><tspan x="2060" dy="13.4">课的质量.</tspan></text></g>
<g id="n4-d3"><rect class="b" x="2055" y="1760" width="220" height="50.2" rx="5"/><text class="t" x="2060" y="1775"><tspan x="2060">3、认真及时批改作业，注意听取学生的意见，</tspan><tspan x="2060" dy="13.4">及时了解学生的学习情况，并有目的的对学生</tspan><tspan x="2060" dy="13.4">进行辅导。</tspan></text></g>
<g id="n4-d4"><rect class="b" x="2055" y="1834" width="220" height="103.8" rx="5"/><text class="t" x="2060" y="1849"><tspan x="2060">4、坚持听课，注意学习组里老师的教学经验，</tspan><tspan x="2060" dy="13.4">努力探索适合自己的教学模式.本学期平均每</tspan><tspan x="2060" dy="13.4">周听课二到三节,尤其是在市一中参加的省优</tspan><tspan x="2060" dy="13.4">质课的评比对自己的教学促进很大，使我了解</tspan><tspan x="2060" dy="13.4">了现在物理教学的动向和发展趋势。平时积极</tspan><tspan x="2060" dy="13.4">参与听课、评课，虚心向同行学习教学方法，</tspan><tspan x="2060" dy="13.4">博采众长，提高教学水平。</tspan></text></g>
<g id="n4-d5"><rect class="b" x="2055" y="1961.4" width="220" height="77" rx="5"/><text class="t" x="2060" y="1976.4"><tspan x="2060">5、注重教育理论的学习,并注意把一些先进的</tspan><tspan x="2060" dy="13.4">理论应用于课堂,做到学有所用.通过开公开课,</tspan><tspan x="2060" dy="13.4">使自己的教学水平得到很大的提高,但也使我</tspan><tspan x="2060" dy="13.4">意识到了自己在教学方面的不足之处，从而更</tspan><tspan x="2060" dy="13.4">促进了物理教学。</tspan></text></g>
<g id="n4-d6"><rect class="b" x="2055" y="2208.6" width="220" height="77" rx="5"/><text class="t" x="2060" y="2223.6"><tspan x="2060">6、加强与备课组老师的合作，团结共进，精</tspan><tspan x="2060" dy="13.4">诚协作，经过一个学期的努力，二(1)、二(2)</tspan><tspan x="2060" dy="13.4">、二(3)3个班的物理成绩都取得了一定的进步</tspan><tspan x="2060" dy="13.4">。其中，二(1)班的进步更为明显，每次考试</tspan><tspan x="2060" dy="13.4">成绩总是不断进步。但还需进一步提高。</tspan></text></g>
<g id="n4-e1"><rect class="b" x="2295" y="2061" width="220" height="36.8" rx="5"/><text class="t" x="2300" y="2076"><tspan x="2300">四，为提高课堂教学的有效性构建高效课堂采</tspan><tspan x="2300" dy="13.4">取的措施</tspan></text></g>
<g id="n4-e2"><rect class="b" x="2295" y="2121" width="220" height="170.8" rx="5"/><text class="t" x="2300" y="2136"><tspan x="2300">在平时的上课过程中，非常注意调动学生的学</tspan><tspan x="2300" dy="13.4">习积极性，根据不同班级的情况，调整上课思</tspan><tspan x="2300" dy="13.4">路和上课方法，针对不同同学的情况，采取不</tspan><tspan x="2300" dy="13.4">同的方法，有的放矢，努力保护学生的积极性</tspan><tspan x="2300" dy="13.4">，和创造性，力争使每个同学都能得到发展的</tspan><tspan x="2300" dy="13.4">空间.1、2班学生比较认真能主动完成老师布</tspan><tspan x="2300" dy="13.4">置得作业，但是创新能力还需要继续锻炼，所</tspan><tspan x="2300" dy="13.4">以，在1、2班上课时，注重鼓励学生大胆发</tspan><tspan x="2300" dy="13.4">言，积极参与开发学生的动手能力。3班同学</tspan><tspan x="2300" dy="13.4">思维比较活跃，但是总的来说，学习不踏实，</tspan><tspan x="2300" dy="13.4">所以，在平时的上课过程中，注重巩固练习，</tspan><tspan x="2300" dy="13.4">及时让学生发现自己的不足。</tspan></text></g>
<g id="n4-e3"><rect class="b" x="2295" y="2316.4" width="160" height="24" rx="5"/><text class="t" x="2300" y="2331.9">五.成绩只代表过去，需继续努力</text></g>
<g id="n4-e4"><rect class="b" x="2295" y="2363.3" width="220" height="103.8" rx="5"/><text class="t" x="2300" y="2378.3"><tspan x="2300">成绩属于过去，尽管上一学期从各方面都取得</tspan><tspan x="2300" dy="13.4">了一定的成绩，但是，同时也存在一些不足之</tspan><tspan x="2300" dy="13.4">处，而且随着时间的推移，学生、社会也将会</tspan><tspan x="2300" dy="13.4">向老师进一步提出更多更高的要求，这就要求</tspan><tspan x="2300" dy="13.4">我们，在以后的工作的过程继续保持过去的优</tspan><tspan x="2300" dy="13.4">势改正不足，不断学习，开拓创新，力争找到</tspan><tspan x="2300" dy="13.4">更为合适这些学生的更加有效的方法。</tspan></text></g>

<g id="n6-1"><rect class="b" x="1711" y="2490" width="187" height="24" rx="5"/><text class="t" x="1716" y="2505.5">★ 八年级物理教学工作总结及反思5篇</text></g>
<g id="n6-2"><rect class="b" x="1711" y="2536.7" width="166" height="24" rx="5"/><text class="t" x="1716" y="2552.2">★ 八年物理上册教学工作总结5篇</text></g>
<g id="n6-3"><rect class="b" x="1711" y="2583.3" width="176" height="24" rx="5"/><text class="t" x="1716" y="2598.8">★ 初中物理教学工作总结及反思5篇</text></g>
<g id="n6-4"><rect class="b" x="1711" y="2630" width="166" height="24" rx="5"/><text class="t" x="1716" y="2645.5">★ 八年级物理科教版教学总结5篇</text></g>
<g id="n6-5"><rect class="b" x="1711" y="2676.7" width="197" height="24" rx="5"/><text class="t" x="1716" y="2692.2">★ 物理教师教学工作总结与反思【5篇】</text></g>
<g id="n6-6"><rect class="b" x="1711" y="2723.3" width="171" height="24" rx="5"/><text class="t" x="1716" y="2738.8">★ 学校物理教育教学工作总结范文</text></g>
<g id="n6-7"><rect class="b" x="1711" y="2770" width="181" height="24" rx="5"/><text class="t" x="1716" y="2785.5">★ 中学物理教育教学工作总结万能版</text></g>
<g id="n6-8"><rect class="b" x="1711" y="2816.7" width="129" height="24" rx="5"/><text class="t" x="1716" y="2832.2">★ 初中物理教学工作总结</text></g>
<g id="n6-9"><rect class="b" x="1711" y="2863.3" width="124" height="24" rx="5"/><text class="t" x="1716" y="2878.8">★ 优秀物理教学总结5篇</text></g>
<g id="n6-10"><rect class="b" x="1711" y="2910" width="155" height="24" rx="5"/><text class="t" x="1716" y="2925.5">★ 物理教学备课组工作总结5篇</text></g>
</svg>
